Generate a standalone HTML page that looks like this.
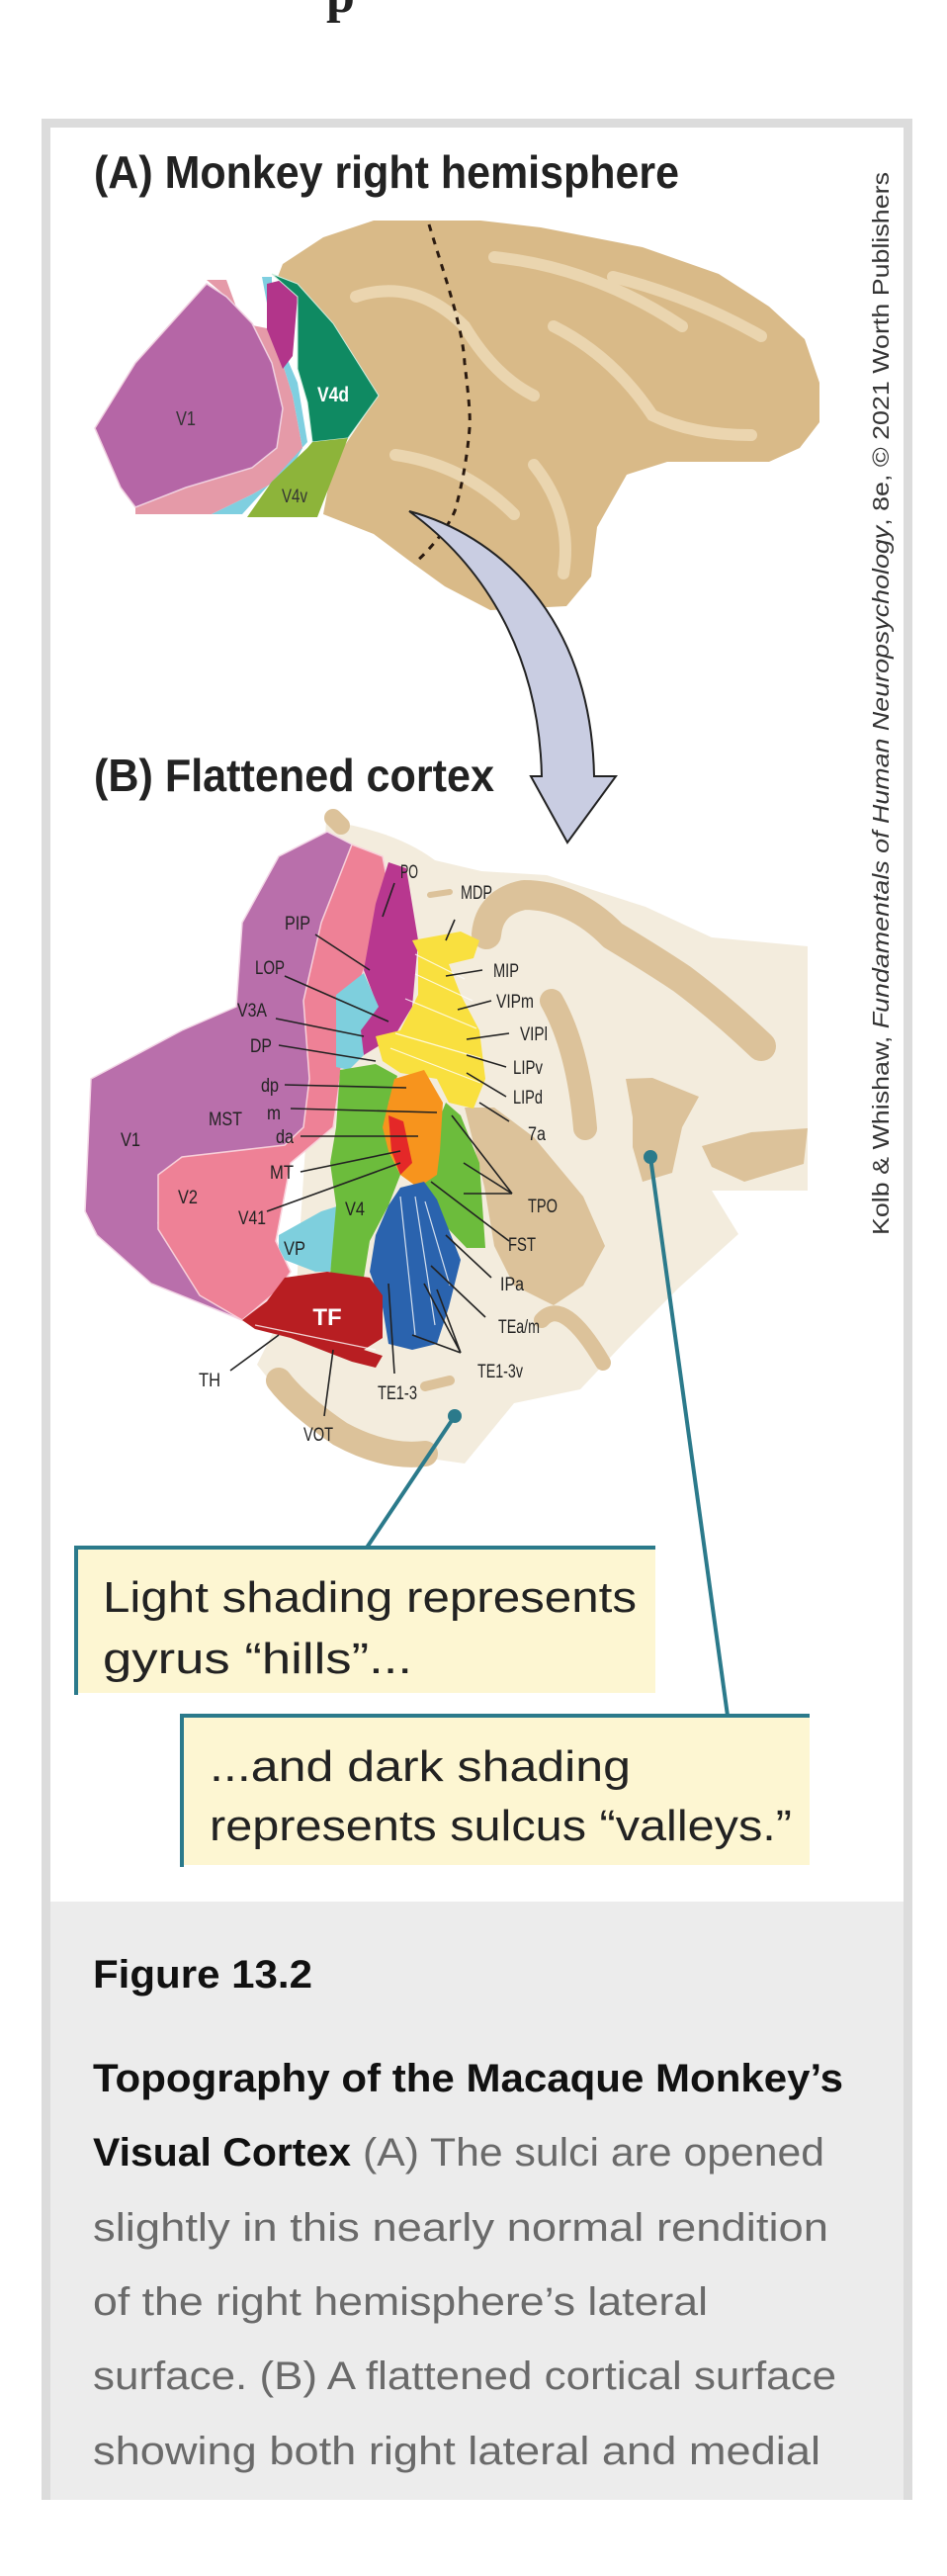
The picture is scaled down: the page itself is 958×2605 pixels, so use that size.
<!DOCTYPE html>
<html><head><meta charset="utf-8"><style>
html,body{margin:0;padding:0;background:#fff;width:958px;height:2605px;overflow:hidden}
svg{display:block}
</style></head><body>
<svg width="958" height="2605" viewBox="0 0 958 2605" xmlns="http://www.w3.org/2000/svg">
<text x="330" y="12" font-family="Liberation Serif,serif" font-weight="bold" font-size="52" fill="#222">p</text>
<!-- card -->
<rect x="42" y="120" width="881" height="2408" fill="#dcdcdc"/>
<rect x="51" y="129" width="863" height="1794" fill="#fff"/>
<rect x="51" y="1923" width="863" height="605" fill="#ececec"/>

<!-- titles -->
<text x="95" y="190" font-family="Liberation Sans,sans-serif" font-weight="bold" font-size="46" fill="#222" textLength="592" lengthAdjust="spacingAndGlyphs">(A)  Monkey right hemisphere</text>
<text x="95" y="800" font-family="Liberation Sans,sans-serif" font-weight="bold" font-size="46" fill="#222" textLength="405" lengthAdjust="spacingAndGlyphs">(B)  Flattened cortex</text>

<!-- brain A -->
<path d="M286,267 L327,240 L378,223 L429,223 L486,223 L547,230 L650,250 L727,277 L778,310 L814,343 L829,387 L829,427 L809,453 L778,467 L675,467 L634,480 L604,533 L598,583 L573,613 L496,617 L450,593 L414,567 L378,540 L327,520 L332,493 L347,453 L378,407 L342,367 L311,300 L281,280 Z" fill="#d9ba88"/>
<g stroke="#ecd8b4" stroke-width="12" fill="none" stroke-linecap="round" opacity="0.9">
<path d="M360,300 Q420,280 470,330 Q500,380 540,400"/>
<path d="M500,260 Q600,270 690,330"/>
<path d="M560,330 Q620,360 660,420 Q700,440 760,440"/>
<path d="M400,460 Q470,470 520,520"/>
<path d="M620,280 Q700,300 770,340"/>
<path d="M540,470 Q580,520 570,580"/>
</g>
<path d="M209,283 L229,283 L245,327 L275,333 L296,400 L306,453 L291,480 L255,500 L214,520 L137,520 L137,513 L188,493 L255,473 L280,453 L286,413 L275,367 L255,327 L229,300 Z" fill="#e59aa8"/>
<path d="M265,280 L275,280 L275,327 L301,387 L311,447 L275,487 L245,520 L214,520 L255,500 L291,480 L306,453 L296,400 L275,333 Z" fill="#7fcfe0"/>
<path d="M96,433 L137,367 L209,287 L229,300 L255,327 L275,367 L286,413 L280,453 L255,473 L188,493 L137,513 L122,493 Z" fill="#b566a6" stroke="#f0d0e0" stroke-width="1.5"/>
<path d="M270,287 L286,283 L301,300 L296,360 L286,373 L270,333 Z" fill="#b2358a"/>
<path d="M275,277 L301,287 L337,327 L383,400 L352,443 L316,447 L311,407 L301,373 L301,300 Z" fill="#0f8a62" stroke="#cfeee0" stroke-width="1"/>
<path d="M316,447 L352,443 L321,523 L250,523 L275,487 L311,453 Z" fill="#8db43a"/>
<text x="188" y="430" font-family="Liberation Sans,sans-serif" font-size="20" fill="#333" text-anchor="middle" textLength="20" lengthAdjust="spacingAndGlyphs">V1</text>
<text x="337" y="406" font-family="Liberation Sans,sans-serif" font-weight="bold" font-size="21" fill="#fff" text-anchor="middle" textLength="32" lengthAdjust="spacingAndGlyphs">V4d</text>
<text x="298" y="508" font-family="Liberation Sans,sans-serif" font-size="19" fill="#333" text-anchor="middle" textLength="26" lengthAdjust="spacingAndGlyphs">V4v</text>
<path d="M434,227 C450,280 468,330 470,367 C474,400 476,420 475,433 C472,470 465,500 460,517 C450,540 430,560 419,570" stroke="#2a1a10" stroke-width="3" fill="none" stroke-dasharray="7,7"/>
<!-- arrow -->
<path d="M414,517 C500,540 598,620 601,785 L623,785 L574,852 L537,785 L548,785 C545,650 480,565 414,517 Z" fill="#c9cde2" stroke="#222" stroke-width="2"/>

<!-- flattened map background (light) -->
<path d="M330,830 Q400,840 440,870 L487,881 L553,885 L653,917 L720,948 L817,957 L817,1204 L720,1204 L747,1248 L687,1302 L633,1356 L587,1405 L520,1419 L470,1480 L400,1470 L300,1430 L260,1380 L300,1300 Z" fill="#f3ecdd"/>
<!-- dark tan -->
<g fill="none" stroke="#dcc29a" stroke-linecap="round" stroke-linejoin="round">
<path d="M492,945 Q495,912 530,905 Q580,905 620,946 Q660,970 690,990 Q730,1020 770,1058" stroke-width="30"/>
<path d="M558,1012 Q585,1060 592,1141" stroke-width="24"/>
<path d="M548,1335 Q570,1310 610,1378" stroke-width="16"/>
<path d="M282,1396 Q300,1420 344,1450 Q390,1475 430,1470" stroke-width="26"/>
<path d="M430,1402 L455,1396" stroke-width="10"/>
<path d="M337,827 L345,835" stroke-width="18"/>
<path d="M435,905 L455,902" stroke-width="6"/>
</g>
<path d="M470,1120 L500,1120 L540,1150 L590,1210 L612,1260 L590,1300 L560,1320 L520,1300 L500,1260 L490,1200 Z" fill="#dcc29a"/>
<path d="M633,1091 L660,1090 L707,1109 L690,1140 L680,1186 L650,1195 L640,1160 L640,1130 Z" fill="#dcc29a"/>
<path d="M710,1159 L760,1145 L817,1141 L813,1177 L753,1195 L720,1180 Z" fill="#dcc29a"/>

<!-- regions -->
<path d="M86,1225 L92,1091 L184,1042 L239,1018 L245,933 L282,866 L331,841 L368,860 L344,994 L344,1091 L294,1164 L202,1176 L166,1188 L160,1237 L202,1298 L245,1335 L153,1298 L98,1249 Z" fill="#b96fab" stroke="#f3d6e6" stroke-width="1.5"/>
<path d="M356,854 L387,866 L399,927 L368,981 L350,1036 L344,1091 L337,1140 L294,1176 L279,1255 L294,1286 L282,1304 L245,1335 L202,1310 L160,1243 L160,1188 L184,1170 L288,1158 L307,1140 L313,1091 L307,1012 L325,933 Z" fill="#ee8196" stroke="#f8d0da" stroke-width="1.5"/>
<path d="M380,914 L393,872 L411,878 L423,951 L417,1018 L399,1048 L368,1067 L362,1036 L380,1012 L368,981 Z" fill="#b8378f"/>
<path d="M340,1006 L368,984 L383,1018 L365,1042 L368,1067 L353,1082 L340,1079 Z" fill="#7ecfdd"/>
<path d="M282,1249 L325,1225 L344,1219 L334,1286 L319,1286 L288,1274 L282,1262 Z" fill="#7ecfdd"/>
<path d="M344,1082 L380,1076 L402,1088 L393,1115 L393,1164 L405,1188 L393,1219 L374,1255 L368,1292 L334,1289 L340,1219 L334,1176 L340,1140 Z" fill="#6cbc3c"/>
<path d="M451,1115 L466,1128 L485,1176 L491,1262 L472,1262 L448,1237 L429,1201 L436,1152 Z" fill="#6cbc3c"/>
<path d="M417,951 L466,942 L485,951 L479,969 L454,975 L466,1006 L485,1042 L491,1091 L479,1121 L454,1115 L442,1091 L405,1085 L387,1073 L380,1048 L405,1042 L423,1006 L423,963 Z" fill="#f9e03f"/>
<path d="M399,1091 L429,1082 L448,1115 L445,1164 L442,1188 L423,1201 L405,1188 L393,1164 L387,1140 L393,1115 Z" fill="#f7941d"/>
<path d="M393,1128 L408,1134 L417,1176 L405,1188 L396,1164 Z" fill="#e42828"/>
<path d="M405,1201 L429,1195 L442,1213 L466,1274 L454,1322 L442,1359 L417,1365 L393,1359 L387,1322 L374,1286 L380,1249 L393,1219 Z" fill="#2a63ae"/>
<path d="M288,1292 L331,1286 L374,1292 L387,1310 L387,1353 L368,1365 L387,1371 L380,1383 L356,1377 L294,1353 L258,1344 L245,1335 L270,1316 Z" fill="#b81e22"/>
<g stroke="#fff" stroke-width="1.2" fill="none" opacity="0.8">
<path d="M420,965 L470,990 M420,985 L478,1012 M410,1010 L482,1040 M400,1045 L486,1070 M395,1060 L486,1095"/>
<path d="M405,1210 L420,1350 M420,1210 L440,1340 M430,1215 L455,1300"/>
<path d="M258,1340 L380,1365"/>
</g>
<text x="331" y="1340" font-family="Liberation Sans,sans-serif" font-weight="bold" font-size="24" fill="#fff" text-anchor="middle">TF</text>

<!-- leader lines -->
<g stroke="#222" stroke-width="1.6" fill="none">
<path d="M399,893 L387,927 M460,930 L451,951 M319,945 L374,981 M288,987 L393,1033 M488,981 L451,987 M279,1030 L368,1048 M497,1012 L463,1021 M515,1045 L472,1051 M282,1057 L380,1073 M512,1079 L472,1067 M288,1097 L411,1100 M512,1109 L472,1085 M294,1121 L442,1125 M304,1149 L423,1149 M515,1134 L485,1115 M304,1185 L405,1164 M270,1225 L405,1176 M518,1207 L457,1128 M518,1207 L469,1176 M518,1207 L469,1207 M515,1255 L436,1195 M497,1292 L451,1249 M491,1332 L436,1280 M466,1368 L417,1350 M466,1368 L429,1298 M466,1368 L442,1304 M399,1389 L393,1298 M233,1386 L282,1350 M328,1432 L337,1365"/>
</g>
<g font-family="Liberation Sans,sans-serif" font-size="19" fill="#222" text-anchor="middle">
<text x="414" y="888" textLength="18" lengthAdjust="spacingAndGlyphs">PO</text>
<text x="482" y="909" textLength="32" lengthAdjust="spacingAndGlyphs">MDP</text>
<text x="301" y="940" textLength="26" lengthAdjust="spacingAndGlyphs">PIP</text>
<text x="273" y="985" textLength="30" lengthAdjust="spacingAndGlyphs">LOP</text>
<text x="512" y="988" textLength="26" lengthAdjust="spacingAndGlyphs">MIP</text>
<text x="255" y="1028" textLength="30" lengthAdjust="spacingAndGlyphs">V3A</text>
<text x="521" y="1019" textLength="38" lengthAdjust="spacingAndGlyphs">VIPm</text>
<text x="540" y="1052" textLength="28" lengthAdjust="spacingAndGlyphs">VIPl</text>
<text x="264" y="1064" textLength="22" lengthAdjust="spacingAndGlyphs">DP</text>
<text x="534" y="1086" textLength="30" lengthAdjust="spacingAndGlyphs">LIPv</text>
<text x="273" y="1104" textLength="18" lengthAdjust="spacingAndGlyphs">dp</text>
<text x="534" y="1116" textLength="30" lengthAdjust="spacingAndGlyphs">LIPd</text>
<text x="228" y="1138" textLength="34" lengthAdjust="spacingAndGlyphs">MST</text>
<text x="277" y="1132" textLength="14" lengthAdjust="spacingAndGlyphs">m</text>
<text x="288" y="1156" textLength="18" lengthAdjust="spacingAndGlyphs">da</text>
<text x="543" y="1153" textLength="18" lengthAdjust="spacingAndGlyphs">7a</text>
<text x="132" y="1159" textLength="20" lengthAdjust="spacingAndGlyphs">V1</text>
<text x="285" y="1192" textLength="24" lengthAdjust="spacingAndGlyphs">MT</text>
<text x="190" y="1217" textLength="20" lengthAdjust="spacingAndGlyphs">V2</text>
<text x="549" y="1226" textLength="30" lengthAdjust="spacingAndGlyphs">TPO</text>
<text x="255" y="1238" textLength="28" lengthAdjust="spacingAndGlyphs">V41</text>
<text x="359" y="1229" textLength="20" lengthAdjust="spacingAndGlyphs">V4</text>
<text x="298" y="1269" textLength="22" lengthAdjust="spacingAndGlyphs">VP</text>
<text x="528" y="1265" textLength="28" lengthAdjust="spacingAndGlyphs">FST</text>
<text x="518" y="1305" textLength="24" lengthAdjust="spacingAndGlyphs">IPa</text>
<text x="525" y="1348" textLength="42" lengthAdjust="spacingAndGlyphs">TEa/m</text>
<text x="212" y="1402" textLength="22" lengthAdjust="spacingAndGlyphs">TH</text>
<text x="506" y="1393" textLength="46" lengthAdjust="spacingAndGlyphs">TE1-3v</text>
<text x="402" y="1415" textLength="40" lengthAdjust="spacingAndGlyphs">TE1-3</text>
<text x="322" y="1457" textLength="30" lengthAdjust="spacingAndGlyphs">VOT</text>
</g>

<!-- callouts -->
<rect x="77" y="1565" width="586" height="147" fill="#fdf6d2"/>
<path d="M77,1714 L77,1565 L663,1565" stroke="#2b7a8b" stroke-width="4" fill="none"/>
<rect x="184" y="1735" width="635" height="151" fill="#fdf6d2"/>
<path d="M184,1888 L184,1735 L819,1735" stroke="#2b7a8b" stroke-width="4" fill="none"/>
<path d="M460,1432 L371,1565" stroke="#2b7a8b" stroke-width="4"/>
<path d="M658,1170 L736,1735" stroke="#2b7a8b" stroke-width="4"/>
<circle cx="460" cy="1432" r="7" fill="#2b7a8b"/>
<circle cx="658" cy="1170" r="7" fill="#2b7a8b"/>
<g font-family="Liberation Sans,sans-serif" font-size="44" fill="#222">
<text x="104" y="1630" textLength="540" lengthAdjust="spacingAndGlyphs">Light shading represents</text>
<text x="104" y="1692" textLength="313" lengthAdjust="spacingAndGlyphs">gyrus “hills”...</text>
<text x="212" y="1801" textLength="426" lengthAdjust="spacingAndGlyphs">...and dark shading</text>
<text x="212" y="1861" textLength="589" lengthAdjust="spacingAndGlyphs">represents sulcus “valleys.”</text>
</g>

<!-- copyright -->
<text transform="translate(899,1249) rotate(-90)" x="0" y="0" font-family="Liberation Sans,sans-serif" font-size="23" fill="#333" textLength="1075" lengthAdjust="spacingAndGlyphs">Kolb &amp; Whishaw, <tspan font-style="italic">Fundamentals of Human Neuropsychology</tspan>, 8e, © 2021 Worth Publishers</text>

<!-- caption -->
<g font-family="Liberation Sans,sans-serif" font-size="40">
<text x="94" y="2010" font-weight="bold" fill="#111" textLength="222" lengthAdjust="spacingAndGlyphs">Figure 13.2</text>
<text x="94" y="2115" font-weight="bold" fill="#111" textLength="759" lengthAdjust="spacingAndGlyphs">Topography of the Macaque Monkey’s</text>
<text x="94" y="2190" font-weight="bold" fill="#111" textLength="261" lengthAdjust="spacingAndGlyphs">Visual Cortex</text>
<text x="367" y="2190" fill="#6a6a6a" textLength="467" lengthAdjust="spacingAndGlyphs">(A) The sulci are opened</text>
<text x="94" y="2266" fill="#6a6a6a" textLength="744" lengthAdjust="spacingAndGlyphs">slightly in this nearly normal rendition</text>
<text x="94" y="2341" fill="#6a6a6a" textLength="622" lengthAdjust="spacingAndGlyphs">of the right hemisphere’s lateral</text>
<text x="94" y="2416" fill="#6a6a6a" textLength="752" lengthAdjust="spacingAndGlyphs">surface. (B) A flattened cortical surface</text>
<text x="94" y="2492" fill="#6a6a6a" textLength="736" lengthAdjust="spacingAndGlyphs">showing both right lateral and medial</text>
</g>
</svg>
</body></html>
